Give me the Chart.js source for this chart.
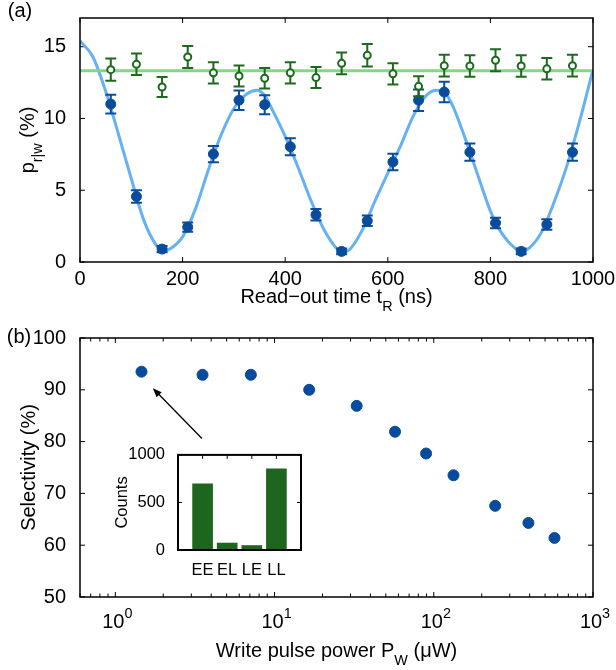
<!DOCTYPE html>
<html>
<head>
<meta charset="utf-8">
<script src="https://cdn.jsdelivr.net/npm/chart.js@4.4.1/dist/chart.umd.min.js"></script>
<style>
body { margin: 0; background: #fff; }
#wrap { position: relative; width: 616px; height: 670px; }
canvas { position: absolute; }
</style>
</head>
<body>
<div id="wrap">
  <canvas id="chartA" width="616" height="320" style="left:0;top:0"></canvas>
  <canvas id="chartB" width="616" height="350" style="left:0;top:320px"></canvas>
  <canvas id="inset" width="210" height="140" style="left:100px;top:440px"></canvas>
</div>
<script>
// (a) read-out time scan
var readTimes = [60, 110, 160, 210, 260, 310, 360, 410, 460, 510, 560, 610, 660, 710, 760, 810, 860, 910, 960];
var pBlue = [11.0, 4.56, 0.9, 2.43, 7.52, 11.27, 10.96, 8.03, 3.29, 0.74, 2.87, 6.97, 11.27, 11.84, 7.65, 2.72, 0.74, 2.61, 7.65];
var errBlue = [0.66, 0.44, 0.22, 0.33, 0.57, 0.68, 0.66, 0.6, 0.4, 0.2, 0.37, 0.57, 0.75, 0.71, 0.6, 0.37, 0.2, 0.36, 0.6];
var pGreen = [13.4, 13.77, 12.19, 14.28, 13.18, 12.96, 12.8, 13.18, 12.85, 13.84, 14.4, 13.11, 12.24, 13.68, 13.66, 14.06, 13.66, 13.46, 13.68];
var errGreen = [0.77, 0.75, 0.7, 0.77, 0.74, 0.73, 0.72, 0.74, 0.73, 0.76, 0.78, 0.74, 0.7, 0.76, 0.75, 0.77, 0.75, 0.75, 0.76];
var fitTimes = [0, 25, 50, 75, 100, 125, 150, 162, 175, 200, 225, 250, 275, 300, 325, 345, 360, 375, 400, 425, 450, 475, 500, 510, 525, 550, 575, 600, 625, 650, 675, 695, 710, 725, 750, 775, 800, 825, 850, 860, 875, 900, 925, 950, 975, 1000];
var fitBlue = [15.4, 14.3, 11.9, 8.9, 5.8, 2.85, 1.1, 0.75, 0.9, 1.75, 3.7, 6.4, 8.85, 10.7, 11.7, 11.97, 11.6, 10.6, 8.75, 6.6, 4.3, 2.3, 0.95, 0.7, 0.85, 2.2, 4.25, 6.2, 8.1, 10.2, 11.6, 11.97, 11.85, 11.0, 8.7, 6.1, 3.55, 1.85, 0.9, 0.74, 0.95, 2.1, 4.25, 6.8, 9.95, 13.4];
var greenLevel = 13.33;
var xTicksA = [0, 200, 400, 600, 800, 1000];
var yTicksA = [0, 5, 10, 15];

// (b) selectivity vs write power
var writePower = [1.46, 3.53, 7.1, 16.5, 32.8, 57.1, 89.5, 133, 243, 393, 573];
var selectivity = [93.5, 92.9, 92.9, 90.0, 86.9, 81.9, 77.7, 73.5, 67.6, 64.3, 61.4];
var yTicksB = [50, 60, 70, 80, 90, 100];
var arrowTail = [3.5, 80.6];
var arrowHead = [1.72, 90.3];

// inset
var barLabels = ['EE', 'EL', 'LE', 'LL'];
var barCounts = [695, 73, 47, 854];
var yTicksInset = [0, 500, 1000];

var FONT = '"Liberation Sans", Arial, sans-serif';

function drawRich(ctx, segs, x, y, size, rotate) {
  ctx.save();
  ctx.translate(x, y);
  if (rotate) ctx.rotate(-Math.PI / 2);
  var w = 0;
  segs.forEach(function (s) {
    var fs = (s.sub || s.sup) ? size * 0.72 : size;
    ctx.font = fs + 'px ' + FONT;
    s.w = ctx.measureText(s.t).width;
    w += s.w;
  });
  var cx = -w / 2;
  ctx.fillStyle = '#000';
  ctx.textAlign = 'left';
  ctx.textBaseline = 'alphabetic';
  segs.forEach(function (s) {
    var fs = (s.sub || s.sup) ? size * 0.72 : size;
    ctx.font = fs + 'px ' + FONT;
    var dy = s.sub ? size * 0.42 : (s.sup ? -size * 0.5 : 0);
    ctx.fillText(s.t, cx, dy);
    cx += s.w;
  });
  ctx.restore();
}

// box around plot area and inward tick marks
var framePlugin = {
  id: 'frame',
  beforeDatasetsDraw: function (chart, args, opts) {
    var ctx = chart.ctx, a = chart.chartArea;
    var xs = chart.scales.x, ys = chart.scales.y;
    ctx.save();
    ctx.strokeStyle = '#000';
    ctx.lineWidth = opts.tickWidth || 1;
    ctx.beginPath();
    xs.ticks.forEach(function (t) {
      var px = xs.getPixelForValue(t.value);
      var len = t.small ? 3.5 : (opts.tickLen || 5);
      ctx.moveTo(px, a.bottom); ctx.lineTo(px, a.bottom - len);
      ctx.moveTo(px, a.top); ctx.lineTo(px, a.top + len);
    });
    ys.ticks.forEach(function (t) {
      var py = ys.getPixelForValue(t.value);
      var len = opts.tickLen || 5;
      ctx.moveTo(a.left, py); ctx.lineTo(a.left + len, py);
      ctx.moveTo(a.right, py); ctx.lineTo(a.right - len, py);
    });
    ctx.stroke();
    ctx.restore();
  },
  afterDatasetsDraw: function (chart, args, opts) {
    var ctx = chart.ctx, a = chart.chartArea;
    ctx.save();
    ctx.strokeStyle = '#000';
    ctx.lineWidth = opts.lineWidth || 1.5;
    ctx.strokeRect(a.left, a.top, a.right - a.left, a.bottom - a.top);
    ctx.restore();
  }
};

// titles with sub/superscripts
var titlesPlugin = {
  id: 'titles',
  afterDraw: function (chart, args, opts) {
    var ctx = chart.ctx, a = chart.chartArea;
    (opts.items || []).forEach(function (it) {
      var x = it.x === 'center' ? (a.left + a.right) / 2 : it.x;
      var y = it.y === 'center' ? (a.top + a.bottom) / 2 : it.y;
      drawRich(ctx, it.segs, x, y, it.size || 20, it.rotate);
    });
  }
};

var errorBarPlugin = {
  id: 'errorBars',
  beforeDatasetDraw: function (chart, args) {
    var ds = chart.data.datasets[args.index];
    if (!ds.err) return;
    var ys = chart.scales.y, ctx = chart.ctx;
    ctx.save();
    ctx.strokeStyle = ds.errColor;
    ctx.lineWidth = 2;
    args.meta.data.forEach(function (pt, i) {
      var v = ds.data[i].y, e = ds.err[i];
      var top = ys.getPixelForValue(v + e), bot = ys.getPixelForValue(v - e);
      ctx.beginPath();
      ctx.moveTo(pt.x, top); ctx.lineTo(pt.x, bot);
      ctx.moveTo(pt.x - 5.5, top); ctx.lineTo(pt.x + 5.5, top);
      ctx.moveTo(pt.x - 5.5, bot); ctx.lineTo(pt.x + 5.5, bot);
      ctx.stroke();
    });
    ctx.restore();
  }
};

function fixedTicks(list) {
  return function (s) { s.ticks = list.map(function (v) { return { value: v }; }); };
}

// ---- panel (a)
new Chart(document.getElementById('chartA'), {
  type: 'scatter',
  data: {
    datasets: [
      {
        data: fitTimes.map(function (t, i) { return { x: t, y: fitBlue[i] }; }),
        showLine: true, pointRadius: 0, borderColor: '#66b1f3', borderWidth: 3,
        cubicInterpolationMode: 'monotone', order: 4
      },
      {
        data: [{ x: 0, y: greenLevel }, { x: 1000, y: greenLevel }],
        showLine: true, pointRadius: 0, borderColor: '#86d486', borderWidth: 3, order: 3
      },
      {
        data: readTimes.map(function (t, i) { return { x: t, y: pBlue[i] }; }),
        pointRadius: 5, pointBackgroundColor: '#0a4c9c', pointBorderColor: '#0a4c9c',
        err: errBlue, errColor: '#0a4c9c', order: 2
      },
      {
        data: readTimes.map(function (t, i) { return { x: t, y: pGreen[i] }; }),
        pointRadius: 3.5, pointBorderWidth: 2, pointBackgroundColor: '#fff', pointBorderColor: '#1c6a1c',
        err: errGreen, errColor: '#1c6a1c', order: 1
      }
    ]
  },
  options: {
    responsive: false,
    animation: false,
    layout: { padding: { top: 4, right: 23, left: 0, bottom: 0 } },
    plugins: {
      legend: { display: false },
      tooltip: { enabled: false },
      titles: {
        items: [
          { segs: [{ t: '(a)' }], x: 20, y: 17 },
          { segs: [{ t: 'Read\u2212out time t' }, { t: 'R', sub: true }, { t: ' (ns)' }], x: 'center', y: 303 },
          { segs: [{ t: 'p' }, { t: 'r|w', sub: true }, { t: ' (%)' }], x: 34, y: 'center', rotate: true }
        ]
      }
    },
    scales: {
      x: {
        type: 'linear', min: 0, max: 1000,
        afterBuildTicks: fixedTicks(xTicksA),
        afterFit: function (s) { s.height = 58; },
        grid: { display: false }, border: { display: false },
        ticks: { font: { family: FONT, size: 20 }, color: '#000', padding: -3, maxRotation: 0, autoSkip: false,
                 callback: function (v) { return String(v); } }
      },
      y: {
        min: 0, max: 17,
        afterBuildTicks: fixedTicks(yTicksA),
        afterFit: function (s) { s.width = 80; },
        grid: { display: false }, border: { display: false },
        ticks: { font: { family: FONT, size: 20 }, color: '#000', padding: 6,
                 callback: function (v) { return String(v); } }
      }
    }
  },
  plugins: [framePlugin, titlesPlugin, errorBarPlugin]
});

// ---- panel (b)
var logTicks = [];
[-1, 0, 1, 2].forEach(function (e) {
  for (var m = 1; m <= 9; m++) {
    var v = m * Math.pow(10, e);
    if (v >= 0.6 && v < 1000) logTicks.push({ value: v, small: m !== 1 });
  }
});
logTicks.push({ value: 1000, small: false });

var arrowPlugin = {
  id: 'arrow',
  afterDatasetsDraw: function (chart) {
    var ctx = chart.ctx, xs = chart.scales.x, ys = chart.scales.y;
    var x0 = xs.getPixelForValue(arrowTail[0]), y0 = ys.getPixelForValue(arrowTail[1]);
    var x1 = xs.getPixelForValue(arrowHead[0]), y1 = ys.getPixelForValue(arrowHead[1]);
    var ang = Math.atan2(y1 - y0, x1 - x0);
    ctx.save();
    ctx.strokeStyle = '#000'; ctx.fillStyle = '#000'; ctx.lineWidth = 1.3;
    ctx.beginPath(); ctx.moveTo(x0, y0); ctx.lineTo(x1 - 6 * Math.cos(ang), y1 - 6 * Math.sin(ang)); ctx.stroke();
    ctx.beginPath();
    ctx.moveTo(x1, y1);
    ctx.lineTo(x1 - 9 * Math.cos(ang) + 3.5 * Math.sin(ang), y1 - 9 * Math.sin(ang) - 3.5 * Math.cos(ang));
    ctx.lineTo(x1 - 9 * Math.cos(ang) - 3.5 * Math.sin(ang), y1 - 9 * Math.sin(ang) + 3.5 * Math.cos(ang));
    ctx.closePath(); ctx.fill();
    ctx.restore();
  }
};

// 10^n tick labels under the log axis
var logLabelPlugin = {
  id: 'logLabels',
  afterDraw: function (chart) {
    var xs = chart.scales.x;
    xs.ticks.forEach(function (t) {
      if (t.small) return;
      var exp = Math.round(Math.log10(t.value));
      drawRich(chart.ctx, [{ t: '10' }, { t: String(exp), sup: true }], xs.getPixelForValue(t.value) + 2, 308, 20, false);
    });
  }
};

new Chart(document.getElementById('chartB'), {
  type: 'scatter',
  data: {
    datasets: [{
      data: writePower.map(function (p, i) { return { x: p, y: selectivity[i] }; }),
      pointRadius: 5.5, pointBackgroundColor: '#074c9c', pointBorderColor: '#074c9c'
    }]
  },
  options: {
    responsive: false,
    animation: false,
    layout: { padding: { top: 18, right: 23, left: 0, bottom: 0 } },
    plugins: {
      legend: { display: false },
      tooltip: { enabled: false },
      titles: {
        items: [
          { segs: [{ t: '(b)' }], x: 19, y: 23 },
          { segs: [{ t: 'Write pulse power P' }, { t: 'W', sub: true }, { t: ' (\u03bcW)' }], x: 'center', y: 337 },
          { segs: [{ t: 'Selectivity (%)' }], x: 34.5, y: 'center', rotate: true }
        ]
      }
    },
    scales: {
      x: {
        type: 'logarithmic', min: 0.6, max: 1000,
        afterBuildTicks: function (s) { s.ticks = logTicks.map(function (t) { return { value: t.value, small: t.small }; }); },
        afterFit: function (s) { s.height = 73; },
        grid: { display: false }, border: { display: false },
        ticks: { display: false }
      },
      y: {
        min: 50, max: 100,
        afterBuildTicks: fixedTicks(yTicksB),
        afterFit: function (s) { s.width = 80; },
        grid: { display: false }, border: { display: false },
        ticks: { font: { family: FONT, size: 20 }, color: '#000', padding: 6,
                 callback: function (v) { return String(v); } }
      }
    }
  },
  plugins: [framePlugin, titlesPlugin, arrowPlugin, logLabelPlugin]
});

// ---- inset bar chart
new Chart(document.getElementById('inset'), {
  type: 'bar',
  data: {
    datasets: [{
      data: barCounts.map(function (c, i) { return { x: i + 1, y: c }; }),
      backgroundColor: '#1e661e', barThickness: 20
    }]
  },
  options: {
    responsive: false,
    animation: false,
    layout: { padding: { top: 9, right: 9, left: 0, bottom: 0 } },
    plugins: {
      legend: { display: false },
      tooltip: { enabled: false },
      frame: { lineWidth: 2, tickLen: 4 },
      titles: { items: [{ segs: [{ t: 'Counts' }], x: 26.5, y: 'center', rotate: true, size: 16.5 }] }
    },
    scales: {
      x: {
        type: 'linear', min: 0, max: 5, offset: false,
        afterBuildTicks: fixedTicks([1, 2, 3, 4]),
        afterFit: function (s) { s.height = 30; },
        grid: { display: false }, border: { display: false },
        ticks: { font: { family: FONT, size: 16.5 }, color: '#000', padding: 3, maxRotation: 0, autoSkip: false,
                 callback: function (v) { return barLabels[v - 1]; } }
      },
      y: {
        min: 0, max: 1000,
        afterBuildTicks: fixedTicks(yTicksInset),
        afterFit: function (s) { s.width = 78; },
        grid: { display: false }, border: { display: false },
        ticks: { font: { family: FONT, size: 16.5 }, color: '#000', padding: 5,
                 callback: function (v) { return String(v); } }
      }
    }
  },
  plugins: [framePlugin, titlesPlugin]
});
</script>
</body>
</html>
